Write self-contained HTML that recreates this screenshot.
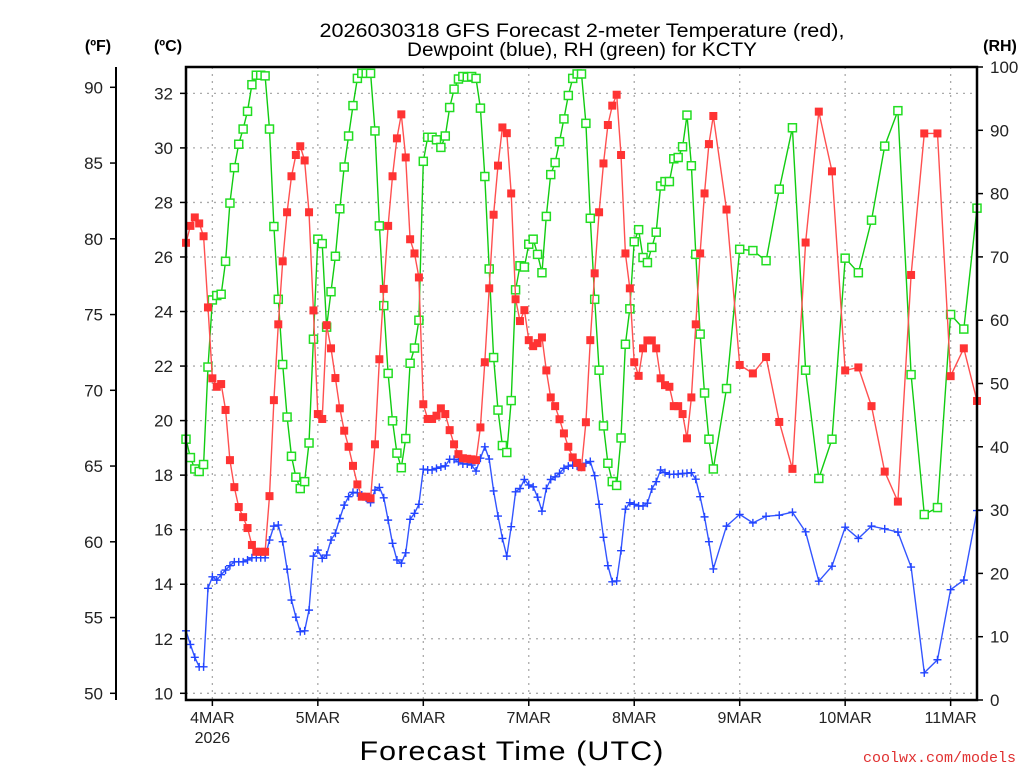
<!DOCTYPE html>
<html><head><meta charset="utf-8">
<style>
html,body{margin:0;padding:0;background:#fff;}
svg{display:block;font-family:"Liberation Sans",sans-serif;}
</style></head>
<body>
<svg id="chart" width="1024" height="768" viewBox="0 0 1024 768" xmlns="http://www.w3.org/2000/svg">
<rect x="0" y="0" width="1024" height="768" fill="#fff"/>
<g id="grid"></g>
<g id="series"></g>
<g id="axes"></g>
<text x="582" y="37" font-size="19" text-anchor="middle" textLength="525" lengthAdjust="spacingAndGlyphs">2026030318 GFS Forecast 2-meter Temperature (red),</text>
<text x="582" y="56" font-size="19" text-anchor="middle" textLength="350" lengthAdjust="spacingAndGlyphs">Dewpoint (blue), RH (green) for KCTY</text>
<text x="98" y="51" font-size="16" font-weight="bold" text-anchor="middle">(ºF)</text>
<text x="168" y="51" font-size="16" font-weight="bold" text-anchor="middle">(ºC)</text>
<text x="1000" y="51" font-size="16" font-weight="bold" text-anchor="middle">(RH)</text>
<text x="512" y="760" font-size="27" text-anchor="middle" textLength="305" lengthAdjust="spacingAndGlyphs" letter-spacing="1">Forecast Time (UTC)</text>
<text x="1016" y="762" font-size="15" fill="#e03030" text-anchor="end" font-family="Liberation Mono, monospace">coolwx.com/models</text>
</svg>
<script>
const hours=[0,1,2,3,4,5,6,7,8,9,10,11,12,13,14,15,16,17,18,19,20,21,22,23,24,25,26,27,28,29,30,31,32,33,34,35,36,37,38,39,40,41,42,43,44,45,46,47,48,49,50,51,52,53,54,55,56,57,58,59,60,61,62,63,64,65,66,67,68,69,70,71,72,73,74,75,76,77,78,79,80,81,82,83,84,85,86,87,88,89,90,91,92,93,94,95,96,97,98,99,100,101,102,103,104,105,106,107,108,109,110,111,112,113,114,115,116,117,118,119,120,123,126,129,132,135,138,141,144,147,150,153,156,159,162,165,168,171,174,177,180];
const tempC=[26.52,27.14,27.45,27.23,26.76,24.15,21.55,21.24,21.34,20.39,18.55,17.56,16.83,16.46,16.06,15.44,15.19,15.19,15.19,17.23,20.75,23.53,25.84,27.64,28.96,29.74,30.06,29.54,27.64,24.04,20.24,20.06,23.5,22.65,21.56,20.45,19.63,19.04,18.34,17.66,17.21,17.21,17.15,19.13,22.25,24.83,27.14,28.96,30.35,31.23,29.65,26.65,26.13,25.25,20.6,20.06,20.06,20.18,20.45,20.24,19.65,19.13,18.77,18.62,18.6,18.58,18.55,19.75,22.14,24.85,27.55,29.35,30.75,30.54,28.33,24.45,23.65,24.05,22.95,22.73,22.84,23.05,21.84,20.85,20.53,20.05,19.53,19.04,18.65,18.45,18.29,19.94,22.95,25.4,27.64,29.43,30.84,31.55,31.95,29.74,26.13,24.85,22.14,21.64,22.65,22.94,22.94,22.65,21.55,21.3,21.24,20.53,20.53,20.24,19.35,20.85,23.53,26.13,28.33,30.14,31.17,27.74,22.04,21.73,22.33,19.95,18.23,26.53,31.33,29.14,21.84,21.95,20.53,18.13,17.03,25.34,30.53,30.53,21.63,22.65,20.72];
const dewC=[12.29,11.79,11.32,10.97,10.97,13.85,14.27,14.15,14.35,14.52,14.68,14.82,14.82,14.82,14.89,14.97,14.97,14.97,14.97,15.62,16.13,16.17,15.56,14.55,13.42,12.79,12.26,12.29,13.05,15.03,15.25,14.95,15.07,15.62,15.87,16.41,16.9,17.21,17.37,17.35,17.27,17.16,16.99,17.45,17.55,17.17,16.35,15.5,14.89,14.77,15.15,16.38,16.6,16.93,18.22,18.19,18.19,18.25,18.3,18.34,18.58,18.58,18.49,18.41,18.41,18.37,18.15,18.62,19.04,18.59,17.42,16.5,15.68,15.03,16.11,17.39,17.51,17.84,17.64,17.57,17.19,16.68,17.51,17.84,17.94,18.07,18.25,18.33,18.37,18.33,18.29,18.44,18.5,17.98,16.93,15.72,14.68,14.09,14.12,15.23,16.75,16.99,16.93,16.87,16.87,16.97,17.49,17.76,18.19,18.09,18.03,18.03,18.04,18.06,18.07,18.09,17.85,17.21,16.47,15.56,14.56,16.13,16.56,16.25,16.49,16.53,16.64,15.92,14.11,14.66,16.09,15.68,16.13,16.03,15.91,14.63,10.75,11.23,13.8,14.15,16.7];
const rhPct=[41.2,38.3,36.5,36.1,37.2,52.6,63.2,63.9,64.1,69.3,78.5,84.1,87.8,90.2,93.0,97.2,98.7,98.7,98.6,90.2,74.8,63.3,53.0,44.7,38.5,35.2,33.4,34.5,40.6,57.0,72.8,72.1,58.9,64.5,70.1,77.6,84.2,89.1,93.9,98.2,99.0,99.0,99.0,89.9,74.9,62.3,51.6,44.1,39.0,36.7,41.3,53.2,55.6,60.0,85.1,88.9,88.9,88.5,87.3,89.1,93.6,96.5,98.1,98.5,98.4,98.5,98.2,93.5,82.7,68.1,54.1,45.8,40.2,39.1,47.3,64.8,68.6,68.4,72.0,72.8,70.4,67.5,76.4,83.0,84.9,88.2,91.8,95.5,98.2,98.9,98.9,91.1,76.1,63.3,52.1,43.3,37.4,34.5,33.9,41.4,56.2,61.8,72.4,74.3,69.9,69.1,71.5,73.9,81.2,81.9,81.9,85.5,85.7,87.4,92.4,84.4,70.4,57.8,48.5,41.2,36.5,49.2,71.2,71.0,69.4,80.7,90.4,52.1,35.0,41.2,69.8,67.5,75.8,87.5,93.1,51.4,29.3,30.4,60.9,58.6,77.7];
const dayLabels=["4MAR","5MAR","6MAR","7MAR","8MAR","9MAR","10MAR","11MAR"];
const dayHours=[6,30,54,78,102,126,150,174];
const cTicks=[10,12,14,16,18,20,22,24,26,28,30,32];
const fTicks=[50,55,60,65,70,75,80,85,90];
const rhTicks=[0,10,20,30,40,50,60,70,80,90,100];

const NS="http://www.w3.org/2000/svg";
const L=186,R=977,T=67,B=700;
const xS=h=>L+(h-0)*(R-L)/180;
const cS=c=>693.3-(c-10)*27.27;
const fS=f=>cS((f-32)*5/9);
const rS=r=>B-r*(B-T)/100;
function mk(tag,parent,attrs){const e=document.createElementNS(NS,tag);for(const k in attrs)e.setAttribute(k,attrs[k]);parent.appendChild(e);return e;}
const grid=document.getElementById('grid'),ser=document.getElementById('series'),ax=document.getElementById('axes');

cTicks.forEach(c=>{const l=mk('line',grid,{x1:L,x2:R,y1:cS(c),y2:cS(c),stroke:'#aaa','stroke-width':1.3,'stroke-dasharray':'2 5'});

});
dayHours.forEach(h=>{const l=mk('line',grid,{x1:xS(h),x2:xS(h),y1:T,y2:B,stroke:'#aaa','stroke-width':1.3,'stroke-dasharray':'2 5'});

});

function series(vals,scale,color,lineColor,kind,name){
  const pts=hours.map((h,i)=>xS(h).toFixed(1)+','+scale(vals[i]).toFixed(1)).join(' ');
  const pl=mk('polyline',ser,{points:pts,fill:'none',stroke:lineColor,'stroke-width':1.4});
  
  
  hours.forEach((h,i)=>{const x=xS(h),y=scale(vals[i]);let m;
    if(kind==='fill'){m=mk('rect',ser,{x:x-4,y:y-4,width:8,height:8,fill:color});}
    else if(kind==='hollow'){m=mk('rect',ser,{x:x-4,y:y-4,width:8,height:8,fill:'#fff',stroke:color,'stroke-width':1.5});}
    else{m=mk('path',ser,{d:`M${x-4} ${y}H${x+4}M${x} ${y-4}V${y+4}`,stroke:color,'stroke-width':1.4,fill:'none'});}
    
    
  });
}
series(rhPct,rS,'#22dd22','#11cc11','hollow','rh');
series(dewC,cS,'#2244ff','#3355ff','plus','dewpoint');
series(tempC,cS,'#ff3333','#ff5050','fill','temperature');

// frame
const fr=mk('rect',ax,{x:L,y:T,width:R-L,height:B-T,fill:'none',stroke:'#000','stroke-width':2.5});


const fa=mk('line',ax,{x1:116,x2:116,y1:T,y2:B,stroke:'#000','stroke-width':2});


cTicks.forEach(c=>{mk('line',ax,{x1:L-6,x2:L,y1:cS(c),y2:cS(c),stroke:'#000','stroke-width':1.5});
 const t=mk('text',ax,{x:173,y:cS(c)+6,'font-size':17,'text-anchor':'end',fill:'#222'});t.textContent=c;
 
 });
fTicks.forEach(f=>{mk('line',ax,{x1:110,x2:116,y1:fS(f),y2:fS(f),stroke:'#000','stroke-width':1.5});
 const t=mk('text',ax,{x:103,y:fS(f)+6,'font-size':17,'text-anchor':'end',fill:'#222'});t.textContent=f;
 
 });
rhTicks.forEach(r=>{mk('line',ax,{x1:R,x2:R+6,y1:rS(r),y2:rS(r),stroke:'#000','stroke-width':1.5});
 const t=mk('text',ax,{x:990,y:rS(r)+6,'font-size':17,'text-anchor':'start',fill:'#222'});t.textContent=r;
 
 });
dayHours.forEach((h,i)=>{mk('line',ax,{x1:xS(h),x2:xS(h),y1:B,y2:B+6,stroke:'#000','stroke-width':1.5});
 const t=mk('text',ax,{x:xS(h),y:723,'font-size':16,'text-anchor':'middle',fill:'#222'});t.textContent=dayLabels[i];
 
 });
const yr=mk('text',ax,{x:xS(dayHours[0]),y:743,'font-size':16,'text-anchor':'middle',fill:'#222'});yr.textContent='2026';


</script>
</body></html>
